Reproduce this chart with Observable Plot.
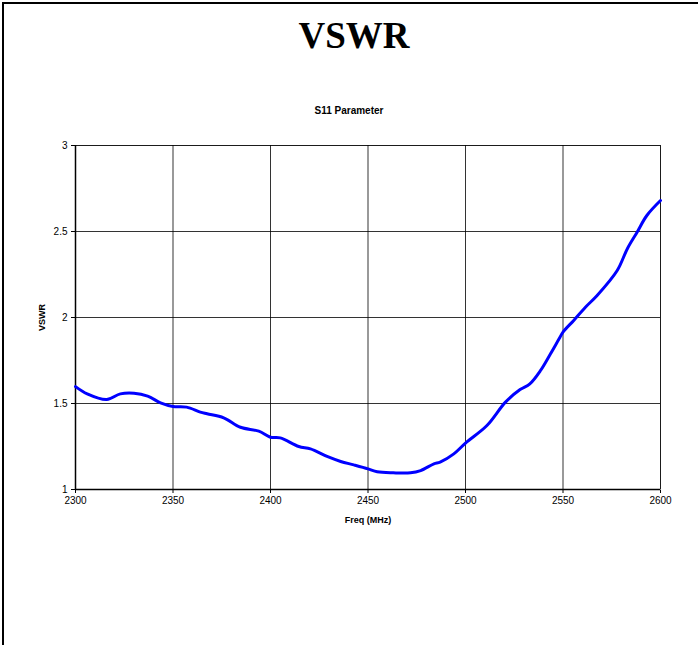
<!DOCTYPE html>
<html>
<head>
<meta charset="utf-8">
<script src="https://cdn.jsdelivr.net/npm/d3@7"></script>
<script src="https://cdn.jsdelivr.net/npm/@observablehq/plot@0.6"></script>
<style>
  html, body { margin: 0; padding: 0; background: #fff; }
  #wrap { position: relative; width: 698px; height: 645px; overflow: hidden; background: #fff; }
  #borderTop { position: absolute; z-index: 5; left: 2px; top: 2px; width: 696px; height: 2px; background: #000; }
  #borderLeft { position: absolute; z-index: 5; left: 2px; top: 2px; width: 2px; height: 643px; background: #000; }
  #title { position: absolute; left: 0; width: 708px; top: 14px; text-align: center;
           font-family: "Liberation Serif", "Times New Roman", serif; font-weight: bold; font-size: 37px; line-height: 44px; color: #000; }
  #subtitle { position: absolute; left: 0; width: 698px; top: 104px; text-align: center;
              font-family: "Liberation Sans", Arial, sans-serif; font-weight: bold; font-size: 10px; line-height: 14px; color: #000; }
  #chart { position: absolute; left: 0; top: 125px; }
</style>
</head>
<body>
<div id="wrap">
  <div id="title">VSWR</div>
  <div id="subtitle">S11 Parameter</div>
  <div id="chart"></div>
  <div id="borderTop"></div>
  <div id="borderLeft"></div>
</div>
<script>
const freq = [2300, 2306, 2316, 2323, 2330, 2337, 2343.6, 2350, 2357, 2364, 2367.5, 2376, 2384.6, 2394, 2400, 2405, 2414.5, 2420.5, 2429, 2436, 2442.7, 2450, 2454.7, 2463, 2471.8, 2477, 2483.8, 2487, 2494, 2500, 2511, 2520.5, 2528, 2533, 2538.5, 2543.6, 2548, 2550, 2555.5, 2561.5, 2567.5, 2577.8, 2583, 2588, 2593, 2600];
const vswr = [1.598, 1.556, 1.523, 1.556, 1.560, 1.543, 1.504, 1.483, 1.479, 1.450, 1.440, 1.417, 1.362, 1.339, 1.304, 1.300, 1.250, 1.236, 1.192, 1.163, 1.143, 1.120, 1.103, 1.097, 1.097, 1.110, 1.149, 1.159, 1.207, 1.270, 1.372, 1.508, 1.581, 1.614, 1.692, 1.789, 1.876, 1.915, 1.983, 2.060, 2.128, 2.273, 2.400, 2.496, 2.593, 2.680];
const xTicks = [2300, 2350, 2400, 2450, 2500, 2550, 2600];
const yTicks = [1, 1.5, 2, 2.5, 3];

const data = freq.map((f, i) => ({f, v: vswr[i]}));

const chart = Plot.plot({
  width: 698,
  height: 420,
  marginLeft: 75,
  marginRight: 38,
  marginTop: 20,
  marginBottom: 56,
  style: {fontFamily: "'Liberation Sans', Arial, sans-serif", fontSize: "10px", color: "#000", background: "#fff"},
  x: {domain: [2300, 2600], ticks: xTicks, tickSize: 4, tickPadding: 3, tickFormat: d => String(d),
      label: "Freq (MHz)", labelAnchor: "center", labelOffset: 33, labelArrow: "none"},
  y: {domain: [1, 3], ticks: yTicks, tickSize: 4, tickPadding: 4, tickFormat: d => String(d),
      label: "VSWR", labelAnchor: "center", labelOffset: 37, labelArrow: "none"},
  marks: [
    Plot.frame({stroke: "#888", strokeWidth: 1}),
    Plot.gridX(xTicks, {stroke: "#000", strokeOpacity: 0.8, strokeWidth: 1}),
    Plot.gridY(yTicks, {stroke: "#000", strokeOpacity: 0.8, strokeWidth: 1}),
    Plot.ruleX([2300], {stroke: "#000", strokeWidth: 1.5}),
    Plot.ruleY([1], {stroke: "#000", strokeWidth: 1.5}),
    Plot.line(data, {x: "f", y: "v", stroke: "#0000ff", strokeWidth: 3, curve: "catmull-rom"})
  ]
});
chart.querySelectorAll("[aria-label='x-axis label'] text, [aria-label='y-axis label'] text").forEach(t => {
  t.setAttribute("font-weight", "bold");
  t.setAttribute("font-size", "9");
});
document.getElementById("chart").appendChild(chart);
</script>
</body>
</html>
